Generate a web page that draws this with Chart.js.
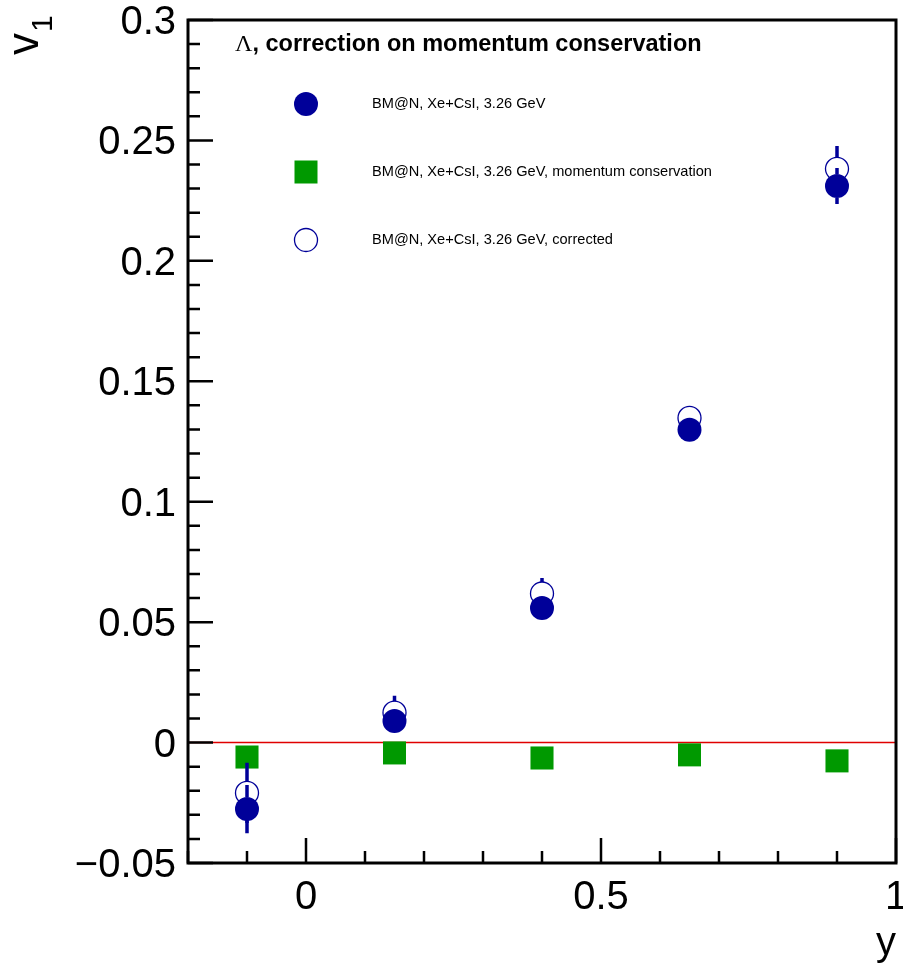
<!DOCTYPE html>
<html>
<head>
<meta charset="utf-8">
<script src="https://cdn.jsdelivr.net/npm/chart.js@4.4.0/dist/chart.umd.min.js"></script>
<style>
body{margin:0;background:#fff}
canvas{display:block}
</style>
</head>
<body>
<canvas id="myChart" width="903" height="963"></canvas>
<script>
// rapidity bins and v1 values
var rapidity=[-0.1,0.15,0.4,0.65,0.9]
var v1Measured=[-0.0276,0.0090,0.0559,0.1299,0.2311]
var v1MeasuredErr=[0.010,0.004,0.004,0.003,0.0075]
var v1MomCons=[-0.0060,-0.0043,-0.0064,-0.0051,-0.0076]
var v1Corrected=[-0.0209,0.0124,0.0619,0.1348,0.2382]
var v1CorrectedErr=[0.0125,0.007,0.0064,0.004,0.0095]

var xTicks=[0,0.5,1]
var yTicks=[-0.05,0,0.05,0.1,0.15,0.2,0.25,0.3]
var legendLabels=["BM@N, Xe+CsI, 3.26 GeV","BM@N, Xe+CsI, 3.26 GeV, momentum conservation","BM@N, Xe+CsI, 3.26 GeV, corrected"]
var titleText=", correction on momentum conservation"

var navy="#000099"
var green="#009900"
var sans="'Liberation Sans', Arial, sans-serif"

function $each(arr,fn){ for(var i=0;i<arr.length;i++) fn(i,arr[i]) }
function toPoints(ys){
    var pts=[]
    $each(ys,function(i,v){ pts.push({x:rapidity[i],y:v}) })
    return pts
}
function fmt(v){
    var r=Math.round(v*100)/100
    return r<0 ? '\u2212'+String(-r) : String(r)
}

var rootStyle={
    id:'rootStyle',
    beforeDatasetsDraw:function(chart){
        var ctx=chart.ctx, a=chart.chartArea, y0=chart.scales.y.getPixelForValue(0)
        ctx.save()
        ctx.strokeStyle="#e00000"
        ctx.lineWidth=1.6
        ctx.beginPath()
        ctx.moveTo(a.left,y0)
        ctx.lineTo(a.right,y0)
        ctx.stroke()
        ctx.restore()
    },
    afterDatasetsDraw:function(chart){
        // error bars, left open where the marker sits (like ROOT does)
        var ctx=chart.ctx, xs=chart.scales.x, ys=chart.scales.y
        ctx.save()
        chart.data.datasets.forEach(function(ds){
            if(!ds.errors) return
            var r=ds.pointRadius
            ctx.strokeStyle=ds.errColor
            ctx.lineWidth=3.5
            ds.data.forEach(function(p,i){
                var e=ds.errors[i]
                var px=xs.getPixelForValue(p.x)
                var py=ys.getPixelForValue(p.y)
                var top=ys.getPixelForValue(p.y+e)
                var bot=ys.getPixelForValue(p.y-e)
                ctx.beginPath()
                if(py-r>top){ ctx.moveTo(px,top); ctx.lineTo(px,py-r) }
                if(bot>py+r){ ctx.moveTo(px,py+r); ctx.lineTo(px,bot) }
                ctx.stroke()
            })
        })
        ctx.restore()
    },
    afterDraw:function(chart){
        var ctx=chart.ctx, a=chart.chartArea, xs=chart.scales.x, ys=chart.scales.y
        ctx.save()
        ctx.strokeStyle="#000"
        ctx.lineWidth=2.5
        // inner ticks on y axis
        ctx.beginPath()
        for(var k=-5;k<=30;k++){
            var py=ys.getPixelForValue(k/100)
            var len=(k%5===0)?25:12
            ctx.moveTo(a.left,py)
            ctx.lineTo(a.left+len,py)
        }
        // inner ticks on x axis
        for(var j=-2;j<=10;j++){
            var px=xs.getPixelForValue(j/10)
            var l=(j%5===0)?25:12
            ctx.moveTo(px,a.bottom)
            ctx.lineTo(px,a.bottom-l)
        }
        ctx.stroke()
        // frame
        ctx.lineWidth=3
        ctx.strokeRect(a.left,a.top,a.right-a.left,a.bottom-a.top)

        ctx.fillStyle="#000"
        // x tick labels
        ctx.font="40px "+sans
        ctx.textAlign="center"
        ctx.textBaseline="alphabetic"
        $each(xTicks,function(i,v){
            ctx.fillText(fmt(v),xs.getPixelForValue(v),909)
        })

        // axis titles
        ctx.textAlign="right"
        ctx.fillText("y",a.right,955)

        ctx.save()
        ctx.translate(38,55)
        ctx.rotate(-Math.PI/2)
        ctx.textAlign="left"
        ctx.font="44px "+sans
        ctx.fillText("v",0,0)
        var vw=ctx.measureText("v").width
        ctx.font="30px "+sans
        ctx.fillText("1",vw+1,14)
        ctx.restore()

        // plot title
        ctx.textAlign="left"
        ctx.font="24px 'Liberation Serif', serif"
        ctx.fillText("\u039b",235,51)
        var lw=ctx.measureText("\u039b").width
        ctx.font="bold 23.5px "+sans
        ctx.fillText(titleText,235+lw,51)

        // legend
        var rows=[104,172,240], mx=306
        ctx.font="14.6px "+sans
        ctx.textBaseline="middle"
        $each(legendLabels,function(i,txt){
            var my=rows[i]
            var ds=chart.data.datasets[i]
            ctx.beginPath()
            if(ds.pointStyle==='rect'){
                ctx.fillStyle=ds.pointBackgroundColor
                ctx.fillRect(mx-11.5,my-11.5,23,23)
            }else if(ds.pointBackgroundColor==='transparent'){
                ctx.strokeStyle=navy
                ctx.lineWidth=1.3
                ctx.arc(mx,my,11.5,0,Math.PI*2)
                ctx.stroke()
            }else{
                ctx.fillStyle=ds.pointBackgroundColor
                ctx.arc(mx,my,12,0,Math.PI*2)
                ctx.fill()
            }
            ctx.fillStyle="#000"
            ctx.fillText(txt,372,my)
        })
        ctx.restore()
    }
}

var myChart=document.getElementById("myChart").getContext("2d")
var chart=new Chart(myChart,{
    type:'scatter',
    data:{
        datasets:[
            {
                label:legendLabels[0],
                data:toPoints(v1Measured),
                errors:v1MeasuredErr,
                errColor:navy,
                pointStyle:'circle',
                pointRadius:12,
                pointBackgroundColor:navy,
                pointBorderColor:navy,
                pointBorderWidth:0,
                order:1
            },
            {
                label:legendLabels[1],
                data:toPoints(v1MomCons),
                pointStyle:'rect',
                pointRadius:16.3,
                pointBackgroundColor:green,
                pointBorderColor:green,
                pointBorderWidth:0,
                order:2
            },
            {
                label:legendLabels[2],
                data:toPoints(v1Corrected),
                errors:v1CorrectedErr,
                errColor:navy,
                pointStyle:'circle',
                pointRadius:11.5,
                pointBackgroundColor:'transparent',
                pointBorderColor:navy,
                pointBorderWidth:1.3,
                order:3
            }
        ]
    },
    options:{
        responsive:false,
        animation:false,
        layout:{autoPadding:false,padding:{left:0,right:7,top:20,bottom:0}},
        plugins:{legend:{display:false},tooltip:{enabled:false}},
        scales:{
            x:{
                type:'linear',
                min:-0.2,
                max:1,
                grid:{display:false,drawTicks:false},
                border:{display:false},
                ticks:{display:false},
                afterFit:function(s){ s.height=100; s.paddingLeft=0; s.paddingRight=0 }
            },
            y:{
                type:'linear',
                min:-0.05,
                max:0.3,
                grid:{display:false,drawTicks:false},
                border:{display:false},
                afterBuildTicks:function(s){ s.ticks=yTicks.map(function(v){return {value:v}}) },
                afterFit:function(s){ s.width=188; s.paddingTop=0; s.paddingBottom=0 },
                ticks:{
                    color:'#000',
                    padding:12,
                    labelOffset:3,
                    font:{family:sans,size:40},
                    callback:function(v){ return fmt(v) }
                }
            }
        }
    },
    plugins:[rootStyle]
})
</script>
</body>
</html>
